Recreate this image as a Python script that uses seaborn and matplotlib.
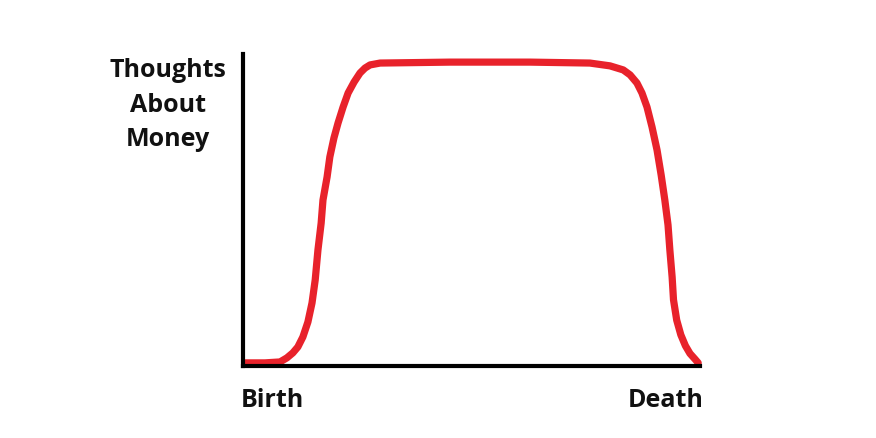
"""Thoughts about money over a lifetime, birth to death."""
import matplotlib.pyplot as plt
import pandas as pd
import seaborn as sns

# values (life position 0-100, thoughts 0-100)
life = [0.4, 4.8, 8.1, 9.6, 10.9, 12.0, 13.1, 14.2, 15.1, 15.8, 16.4, 17.1, 17.5,
        18.4, 19.0, 19.9, 20.8, 21.9, 23.0, 24.3, 25.6, 26.7, 27.8, 30.0, 45.3,
        62.8, 75.9, 80.3, 83.2, 84.7, 86.2, 87.3, 88.4, 89.5, 90.6, 91.5, 92.3,
        93.0, 93.4, 93.9, 94.2, 94.9, 95.8, 96.8, 97.8, 98.9, 99.6]
thoughts = [1.0, 1.0, 1.3, 2.6, 4.2, 6.1, 9.3, 14.1, 20.2, 27.6, 37.2, 45.8, 53.2,
            60.6, 67.0, 73.1, 77.9, 83.0, 87.5, 91.0, 93.9, 95.5, 96.5, 97.1, 97.4,
            97.4, 97.1, 96.2, 94.9, 93.3, 90.7, 87.5, 83.0, 76.6, 69.2, 61.2, 53.2,
            45.2, 37.2, 28.5, 21.2, 14.7, 10.0, 6.5, 4.0, 2.2, 1.0]
x_labels = ['Birth', 'Death']
y_label = 'Thoughts\nAbout\nMoney'

df = pd.DataFrame({'life': life, 'thoughts': thoughts})

sns.set_style('white')
plt.rcParams['font.family'] = ['Open Sans', 'DejaVu Sans']

fig = plt.figure(figsize=(8.76, 4.38), dpi=100)
ax = fig.add_axes([0.2774, 0.1644, 0.5217, 0.7123])

sns.lineplot(data=df, x='life', y='thoughts', ax=ax, color='#e8222b',
             linewidth=5.2, sort=False, clip_on=False)
for line in ax.lines:
    line.set_solid_capstyle('round')
    line.set_solid_joinstyle('round')

ax.set_xlim(0, 100)
ax.set_ylim(0, 100)
ax.set_xticks([])
ax.set_yticks([])
ax.set_xlabel('')
ax.set_ylabel('')

ax.spines['top'].set_visible(False)
ax.spines['right'].set_visible(False)
for side in ['left', 'bottom']:
    ax.spines[side].set_linewidth(3)
    ax.spines[side].set_color('black')

bold = {'fontweight': 'bold', 'fontsize': 18, 'color': '#111111'}
ax.text(-0.005, -0.072, x_labels[0], transform=ax.transAxes, ha='left', va='top', **bold)
ax.text(1.008, -0.072, x_labels[1], transform=ax.transAxes, ha='right', va='top', **bold)
ax.text(-0.165, 0.987, y_label, transform=ax.transAxes, ha='center', va='top',
        linespacing=1.5, **bold)

plt.savefig('out.png', dpi=100)
